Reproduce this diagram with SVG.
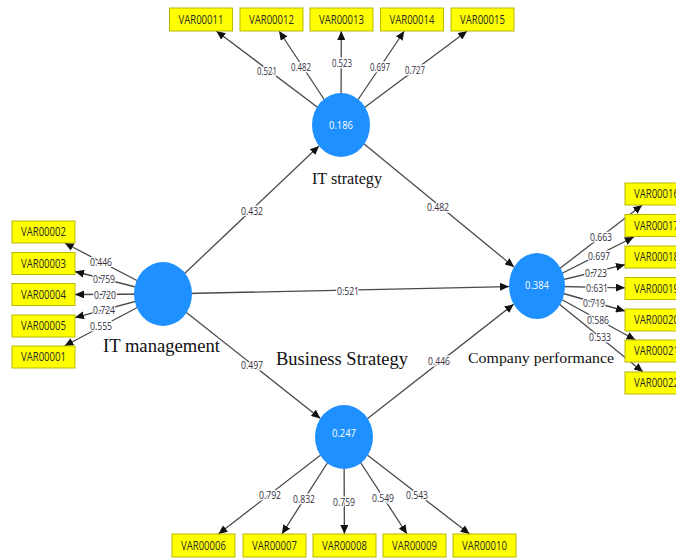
<svg xmlns="http://www.w3.org/2000/svg" width="676" height="559" viewBox="0 0 676 559">
<style>
.bg{fill:#ffffff}
.ind rect{fill:#ffff00;stroke:#b8b800;stroke-width:1}
.ind text{font-family:"Open Sans","Noto Sans",sans-serif;font-size:12px;fill:#2a2a2a;text-anchor:middle}
.lv ellipse{fill:#1e90ff}
.lv text.v{font-family:"Open Sans","Noto Sans",sans-serif;font-size:11.5px;fill:#ffffff;text-anchor:middle}
.name{font-family:"Liberation Serif","Times New Roman",serif;fill:#111111;text-anchor:middle}
.edges line{stroke:#4a4a4a;stroke-width:1.3;marker-end:url(#ah)}
.lbl{font-family:"Open Sans","Noto Sans",sans-serif;font-size:11px;fill:#332d3d;text-anchor:middle;stroke:#ffffff;stroke-width:3;paint-order:stroke;stroke-linejoin:round}
</style>
<defs>
<marker id="ah" markerUnits="userSpaceOnUse" markerWidth="9" markerHeight="8" refX="9" refY="4" orient="auto">
<path d="M0,0 L9,4 L0,8 z" fill="#111111"/>
</marker>
</defs>
<rect class="bg" x="0" y="0" width="676" height="559"/>

<g id="connectors" class="edges">
<line x1="163" y1="294" x2="319" y2="146"/>
<line x1="341" y1="125" x2="514" y2="267"/>
<line x1="163" y1="294" x2="509" y2="286.6"/>
<line x1="163" y1="294" x2="320.4" y2="418.4"/>
<line x1="344" y1="437" x2="513.7" y2="304.2"/>
<line x1="341" y1="125" x2="216.3" y2="31"/>
<line x1="341" y1="125" x2="279.1" y2="31"/>
<line x1="341" y1="125" x2="341.3" y2="31"/>
<line x1="341" y1="125" x2="404.3" y2="31"/>
<line x1="341" y1="125" x2="467.1" y2="31"/>
<line x1="163" y1="294" x2="64.7" y2="243"/>
<line x1="163" y1="294" x2="75" y2="271.5"/>
<line x1="163" y1="294" x2="75" y2="294.5"/>
<line x1="163" y1="294" x2="75" y2="317.6"/>
<line x1="163" y1="294" x2="64.4" y2="346"/>
<line x1="537" y1="286" x2="642.2" y2="205"/>
<line x1="537" y1="286" x2="633.8" y2="237"/>
<line x1="537" y1="286" x2="625" y2="264.7"/>
<line x1="537" y1="286" x2="625" y2="287.8"/>
<line x1="537" y1="286" x2="625" y2="311"/>
<line x1="537" y1="286" x2="635.5" y2="340"/>
<line x1="537" y1="286" x2="643" y2="372"/>
<line x1="344" y1="437" x2="218.4" y2="534"/>
<line x1="344" y1="437" x2="281.9" y2="534"/>
<line x1="344" y1="437" x2="344.4" y2="534"/>
<line x1="344" y1="437" x2="407" y2="534"/>
<line x1="344" y1="437" x2="469.6" y2="534"/>
</g>

<g id="labels">
<text class="lbl" x="252" y="215" textLength="22" lengthAdjust="spacingAndGlyphs">0.432</text>
<text class="lbl" x="438" y="211" textLength="22" lengthAdjust="spacingAndGlyphs">0.482</text>
<text class="lbl" x="348" y="294.5" textLength="22" lengthAdjust="spacingAndGlyphs">0.521</text>
<text class="lbl" x="252" y="369" textLength="22" lengthAdjust="spacingAndGlyphs">0.497</text>
<text class="lbl" x="439" y="365" textLength="22" lengthAdjust="spacingAndGlyphs">0.446</text>

<text class="lbl" x="267" y="75" textLength="20" lengthAdjust="spacingAndGlyphs">0.521</text>
<text class="lbl" x="301" y="71" textLength="20" lengthAdjust="spacingAndGlyphs">0.482</text>
<text class="lbl" x="342" y="67" textLength="20" lengthAdjust="spacingAndGlyphs">0.523</text>
<text class="lbl" x="380" y="71" textLength="20" lengthAdjust="spacingAndGlyphs">0.697</text>
<text class="lbl" x="415" y="74" textLength="20" lengthAdjust="spacingAndGlyphs">0.727</text>

<text class="lbl" x="101" y="266" textLength="22" lengthAdjust="spacingAndGlyphs">0.446</text>
<text class="lbl" x="104" y="283" textLength="22" lengthAdjust="spacingAndGlyphs">0.759</text>
<text class="lbl" x="105" y="298.5" textLength="22" lengthAdjust="spacingAndGlyphs">0.720</text>
<text class="lbl" x="104" y="313.5" textLength="22" lengthAdjust="spacingAndGlyphs">0.724</text>
<text class="lbl" x="101" y="330" textLength="22" lengthAdjust="spacingAndGlyphs">0.555</text>

<text class="lbl" x="601" y="241" textLength="22" lengthAdjust="spacingAndGlyphs">0.663</text>
<text class="lbl" x="599" y="259.5" textLength="22" lengthAdjust="spacingAndGlyphs">0.697</text>
<text class="lbl" x="596" y="276.5" textLength="22" lengthAdjust="spacingAndGlyphs">0.723</text>
<text class="lbl" x="597" y="291.5" textLength="22" lengthAdjust="spacingAndGlyphs">0.631</text>
<text class="lbl" x="594" y="307" textLength="22" lengthAdjust="spacingAndGlyphs">0.719</text>
<text class="lbl" x="598" y="324" textLength="22" lengthAdjust="spacingAndGlyphs">0.586</text>
<text class="lbl" x="600" y="341" textLength="22" lengthAdjust="spacingAndGlyphs">0.533</text>

<text class="lbl" x="270" y="499" textLength="22" lengthAdjust="spacingAndGlyphs">0.792</text>
<text class="lbl" x="304" y="503" textLength="22" lengthAdjust="spacingAndGlyphs">0.832</text>
<text class="lbl" x="344" y="506" textLength="22" lengthAdjust="spacingAndGlyphs">0.759</text>
<text class="lbl" x="383" y="502" textLength="22" lengthAdjust="spacingAndGlyphs">0.549</text>
<text class="lbl" x="417" y="499" textLength="22" lengthAdjust="spacingAndGlyphs">0.543</text>
</g>

<g id="lv-it-strategy" class="lv">
<ellipse cx="341" cy="125" rx="29" ry="32"/>
<text class="v" x="341" y="128.5" textLength="24" lengthAdjust="spacingAndGlyphs">0.186</text>
<text class="name" x="347" y="184" font-size="17" textLength="70" lengthAdjust="spacingAndGlyphs">IT strategy</text>
</g>
<g id="lv-it-management" class="lv">
<ellipse cx="163" cy="294" rx="29" ry="32"/>
<text class="name" x="161.5" y="352" font-size="18" textLength="117" lengthAdjust="spacingAndGlyphs">IT management</text>
</g>
<g id="lv-business-strategy" class="lv">
<ellipse cx="344" cy="437" rx="29" ry="32"/>
<text class="v" x="344" y="437" textLength="24" lengthAdjust="spacingAndGlyphs">0.247</text>
<text class="name" x="342" y="365" font-size="18.5" textLength="132" lengthAdjust="spacingAndGlyphs">Business Strategy</text>
</g>
<g id="lv-company-performance" class="lv">
<ellipse cx="537" cy="286" rx="28" ry="33"/>
<text class="v" x="537" y="289" textLength="24" lengthAdjust="spacingAndGlyphs">0.384</text>
<text class="name" x="541" y="363" font-size="15.5" textLength="146" lengthAdjust="spacingAndGlyphs">Company performance</text>
</g>

<g id="ind-VAR00011" class="ind"><rect x="169.5" y="8" width="63" height="23"/><text x="201" y="23.5" textLength="45" lengthAdjust="spacingAndGlyphs">VAR00011</text></g>
<g id="ind-VAR00012" class="ind"><rect x="240" y="8" width="63" height="23"/><text x="271.5" y="23.5" textLength="45" lengthAdjust="spacingAndGlyphs">VAR00012</text></g>
<g id="ind-VAR00013" class="ind"><rect x="310" y="8" width="63" height="23"/><text x="341.5" y="23.5" textLength="45" lengthAdjust="spacingAndGlyphs">VAR00013</text></g>
<g id="ind-VAR00014" class="ind"><rect x="380.5" y="8" width="63" height="23"/><text x="412" y="23.5" textLength="45" lengthAdjust="spacingAndGlyphs">VAR00014</text></g>
<g id="ind-VAR00015" class="ind"><rect x="451" y="8" width="63" height="23"/><text x="482.5" y="23.5" textLength="45" lengthAdjust="spacingAndGlyphs">VAR00015</text></g>

<g id="ind-VAR00002" class="ind"><rect x="12" y="221" width="63" height="22"/><text x="43.5" y="236" textLength="45" lengthAdjust="spacingAndGlyphs">VAR00002</text></g>
<g id="ind-VAR00003" class="ind"><rect x="12" y="252.5" width="63" height="22"/><text x="43.5" y="267.5" textLength="45" lengthAdjust="spacingAndGlyphs">VAR00003</text></g>
<g id="ind-VAR00004" class="ind"><rect x="12" y="283.5" width="63" height="22"/><text x="43.5" y="298.5" textLength="45" lengthAdjust="spacingAndGlyphs">VAR00004</text></g>
<g id="ind-VAR00005" class="ind"><rect x="12" y="315" width="63" height="22"/><text x="43.5" y="330" textLength="45" lengthAdjust="spacingAndGlyphs">VAR00005</text></g>
<g id="ind-VAR00001" class="ind"><rect x="12" y="346" width="63" height="22"/><text x="43.5" y="361" textLength="45" lengthAdjust="spacingAndGlyphs">VAR00001</text></g>

<g id="ind-VAR00016" class="ind"><rect x="625" y="183" width="63" height="22"/><text x="656.5" y="198" textLength="45" lengthAdjust="spacingAndGlyphs">VAR00016</text></g>
<g id="ind-VAR00017" class="ind"><rect x="625" y="214.5" width="63" height="22"/><text x="656.5" y="229.5" textLength="45" lengthAdjust="spacingAndGlyphs">VAR00017</text></g>
<g id="ind-VAR00018" class="ind"><rect x="625" y="246" width="63" height="22"/><text x="656.5" y="261" textLength="45" lengthAdjust="spacingAndGlyphs">VAR00018</text></g>
<g id="ind-VAR00019" class="ind"><rect x="625" y="277.5" width="63" height="22"/><text x="656.5" y="292.5" textLength="45" lengthAdjust="spacingAndGlyphs">VAR00019</text></g>
<g id="ind-VAR00020" class="ind"><rect x="625" y="309" width="63" height="22"/><text x="656.5" y="324" textLength="45" lengthAdjust="spacingAndGlyphs">VAR00020</text></g>
<g id="ind-VAR00021" class="ind"><rect x="625" y="340" width="63" height="22"/><text x="656.5" y="355" textLength="45" lengthAdjust="spacingAndGlyphs">VAR00021</text></g>
<g id="ind-VAR00022" class="ind"><rect x="625" y="372" width="63" height="22"/><text x="656.5" y="387" textLength="45" lengthAdjust="spacingAndGlyphs">VAR00022</text></g>

<g id="ind-VAR00006" class="ind"><rect x="172" y="534" width="63" height="23"/><text x="203.5" y="549.5" textLength="45" lengthAdjust="spacingAndGlyphs">VAR00006</text></g>
<g id="ind-VAR00007" class="ind"><rect x="243" y="534" width="63" height="23"/><text x="274.5" y="549.5" textLength="45" lengthAdjust="spacingAndGlyphs">VAR00007</text></g>
<g id="ind-VAR00008" class="ind"><rect x="313" y="534" width="63" height="23"/><text x="344.5" y="549.5" textLength="45" lengthAdjust="spacingAndGlyphs">VAR00008</text></g>
<g id="ind-VAR00009" class="ind"><rect x="383" y="534" width="63" height="23"/><text x="414.5" y="549.5" textLength="45" lengthAdjust="spacingAndGlyphs">VAR00009</text></g>
<g id="ind-VAR00010" class="ind"><rect x="453" y="534" width="63" height="23"/><text x="484.5" y="549.5" textLength="45" lengthAdjust="spacingAndGlyphs">VAR00010</text></g>
</svg>
